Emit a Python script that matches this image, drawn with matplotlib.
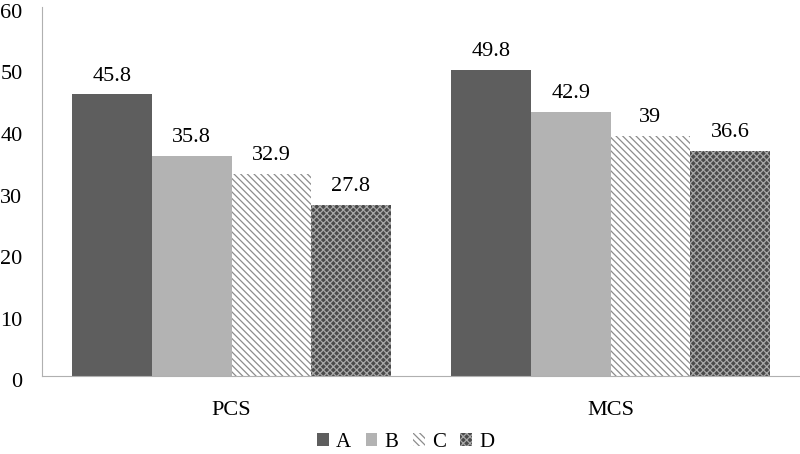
import numpy as np
import matplotlib.pyplot as plt
import matplotlib.transforms as mtransforms

plt.rcParams['font.family'] = ['Liberation Serif', 'DejaVu Serif']
plt.rcParams['hatch.linewidth'] = 0.9

categories = ['PCS', 'MCS']
series = ['A', 'B', 'C', 'D']
values = {
    'A': [45.8, 49.8],
    'B': [35.8, 42.9],
    'C': [32.9, 39],
    'D': [27.8, 36.6],
}

styles = {
    'A': dict(color='#5e5e5e', edgecolor='#5e5e5e', hatch=None),
    'B': dict(color='#b3b3b3', edgecolor='#b3b3b3', hatch=None),
    'C': dict(color='white', edgecolor='#8c8c8c', hatch='\\\\\\\\\\'),
    'D': dict(color='#4a4a4a', edgecolor='#a8a8a8', hatch='xxxxx'),
}

fig = plt.figure(figsize=(8, 4.54), dpi=100)
ax = fig.add_axes([0.0525, 0.172, 0.9475, 0.813])

x = np.arange(len(categories))
w = 0.21
for i, s in enumerate(series):
    pos = x + (i - 1.5) * w
    st = styles[s]
    bars = ax.bar(pos, values[s], w, color=st['color'], edgecolor=st['edgecolor'],
                  hatch=st['hatch'], linewidth=0, label=s)
    for b, v in zip(bars, values[s]):
        ax.text(b.get_x() + b.get_width() / 2, v + 1.4, f'{v:g}',
                ha='center', va='bottom', fontsize=16)

ax.set_xlim(-0.5, 1.5)
ax.set_ylim(0, 60)
ax.set_yticks(range(0, 61, 10))
ax.set_xticks(x)
ax.set_xticklabels(categories)
ax.tick_params(axis='both', length=0, labelsize=16)
ax.tick_params(axis='y', pad=14)
ax.tick_params(axis='x', pad=18)
# y labels sit a little below their values in the original
shift = mtransforms.ScaledTranslation(0, -3 / 72, fig.dpi_scale_trans)
for lab in ax.get_yticklabels():
    lab.set_transform(lab.get_transform() + shift)
for sp in ['top', 'right']:
    ax.spines[sp].set_visible(False)
ax.spines['left'].set_color('#b0b0b0')
ax.spines['bottom'].set_color('#b0b0b0')

ax.legend(loc='center', bbox_to_anchor=(0.48, -0.18), ncol=4, frameon=False,
          fontsize=15, handlelength=0.55, handleheight=0.55, handletextpad=0.35,
          columnspacing=0.7, borderpad=0)

fig.savefig('out.png')
